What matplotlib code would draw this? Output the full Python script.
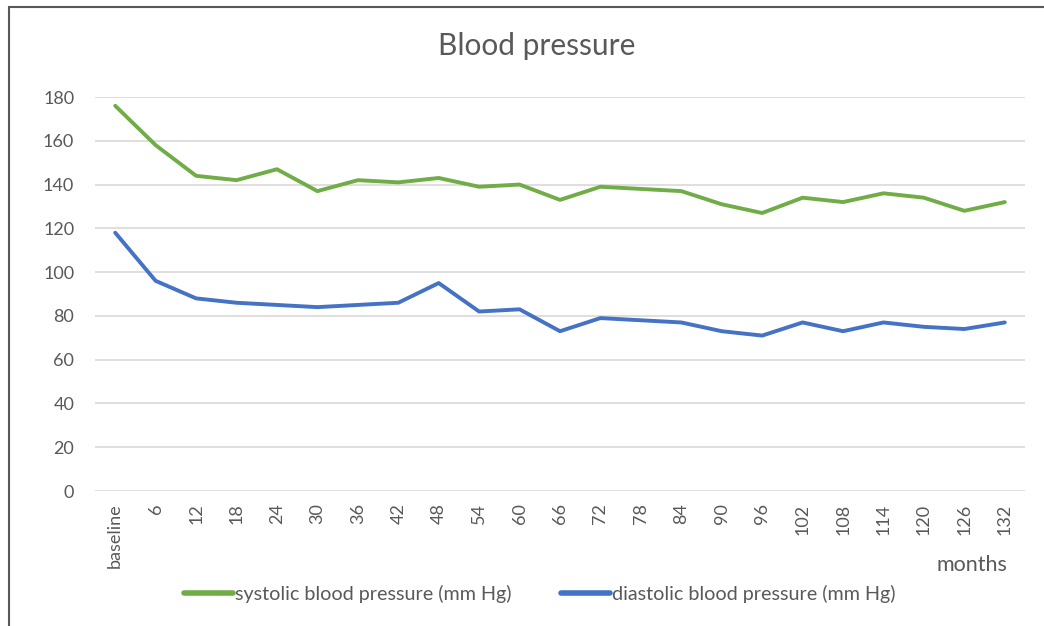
import matplotlib.pyplot as plt
from matplotlib.patches import Rectangle

months = ["baseline", "6", "12", "18", "24", "30", "36", "42", "48", "54", "60", "66",
          "72", "78", "84", "90", "96", "102", "108", "114", "120", "126", "132"]
systolic = [176, 158, 144, 142, 147, 137, 142, 141, 143, 139, 140, 133,
            139, 138, 137, 131, 127, 134, 132, 136, 134, 128, 132]
diastolic = [118, 96, 88, 86, 85, 84, 85, 86, 95, 82, 83, 73,
             79, 78, 77, 73, 71, 77, 73, 77, 75, 74, 77]
yticks = [0, 20, 40, 60, 80, 100, 120, 140, 160, 180]

plt.rcParams['font.family'] = ['Lato', 'DejaVu Sans']
txt = '#595959'

fig = plt.figure(figsize=(10.44, 6.26), dpi=100)
ax = fig.add_axes([95/1044, 1 - 491/626, 930/1044, 394/626])

x = list(range(len(months)))
ax.plot(x, systolic, color='#70AD47', lw=2.8, solid_joinstyle='round', solid_capstyle='round',
        label='systolic blood pressure (mm Hg)', zorder=3)
ax.plot(x, diastolic, color='#4472C4', lw=2.8, solid_joinstyle='round', solid_capstyle='round',
        label='diastolic blood pressure (mm Hg)', zorder=3)

ax.set_xlim(-0.5, len(months) - 0.5)
ax.set_ylim(0, 180)
ax.set_yticks(yticks)
ax.set_yticklabels([str(v) for v in yticks], fontsize=13, color=txt)
ax.set_xticks(x)
ax.set_xticklabels(months, rotation=90, fontsize=13, color=txt)
ax.tick_params(length=0)
ax.tick_params(axis='y', pad=15)
ax.tick_params(axis='x', pad=9)
ax.grid(axis='y', color='#D9D9D9', lw=1.2)
ax.set_axisbelow(True)
for s in ax.spines.values():
    s.set_visible(False)

fig.text(537/1044, 1 - 46/626, 'Blood pressure', ha='center', va='center', fontsize=21.5, color=txt)
fig.text(972/1044, 1 - 565/626, 'months', ha='center', va='center', fontsize=15.5, color=txt)

leg = fig.legend(loc='center', bbox_to_anchor=(540/1044, 1 - 594/626), ncol=2, frameon=False,
                 fontsize=14.2, handlelength=2.5, handletextpad=0.1, columnspacing=2.5)
for t in leg.get_texts():
    t.set_color(txt)
for h in leg.get_lines():
    h.set_linewidth(4)

fig.patches.append(Rectangle((9/1044, -0.1), 1.2, 1 - 6.5/626 + 0.1, transform=fig.transFigure,
                             fill=False, edgecolor='#595959', lw=1.5))

fig.savefig('out.png', dpi=100)
